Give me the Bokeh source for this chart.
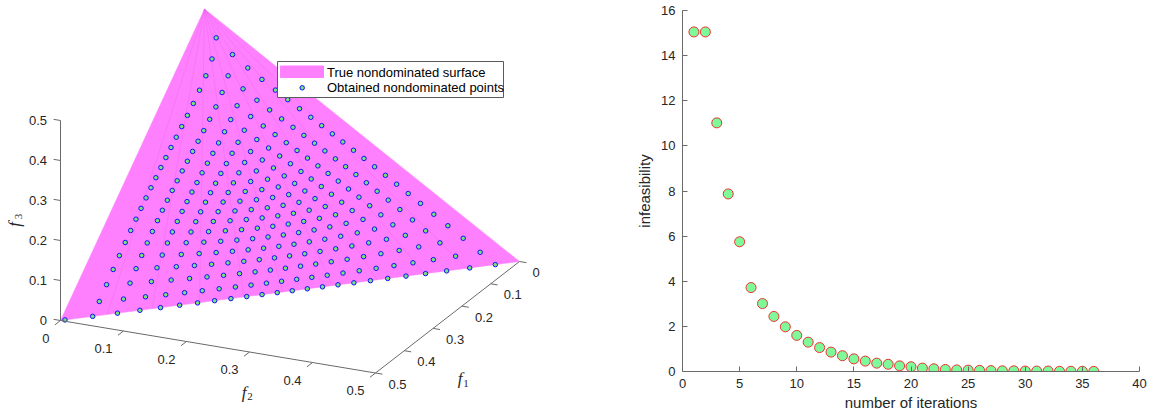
import math
from bokeh.plotting import figure
from bokeh.layouts import row
from bokeh.models import Range1d, FixedTicker, ColumnDataSource
from bokeh.core.properties import value
from bokeh.embed import file_html
from bokeh.resources import INLINE

# ---------------- data: right panel ----------------
iterations = list(range(1, 37))
infeasibility = [15.05, 15.05, 11.02, 7.87, 5.75, 3.72, 3.01, 2.44, 1.98, 1.60,
                 1.30, 1.06, 0.86, 0.70, 0.56, 0.46, 0.37, 0.32, 0.25, 0.21,
                 0.15, 0.12, 0.09, 0.07, 0.06, 0.05, 0.04, 0.03, 0.03, 0.02,
                 0.02, 0.02, 0.01, 0.01, 0.01, 0.005]
x_ticks = [0, 5, 10, 15, 20, 25, 30, 35, 40]
y_ticks = [0, 2, 4, 6, 8, 10, 12, 14, 16]

# ---------------- data: left panel ----------------
# true nondominated surface f1+f2+f3 = 0.5 (corners)
surface_f1 = [0.5, 0.0, 0.0]
surface_f2 = [0.0, 0.5, 0.0]
surface_f3 = [0.0, 0.0, 0.5]
# obtained points: direction grid (polar angle per row, row divisions)
theta_rows_deg = [4.7, 8.6, 12.5, 16.4, 20.4, 24.3, 28.2, 32.1, 36.0, 39.9, 43.8,
                  47.8, 51.7, 55.6, 59.5, 63.4, 67.3, 71.2, 75.2, 79.1, 83.0, 86.9, 90.0]
row_divisions = list(range(2, 25))
phi_shift = 0.15
seam_phi_deg = [6.5, 14.0, 23.5, 33.6, 43.2, 55.4, 65.7, 75.3, 82.6]
axis_ticks = [0, 0.1, 0.2, 0.3, 0.4, 0.5]
tick_labels = ["0", "0.1", "0.2", "0.3", "0.4", "0.5"]

H = 415
FONT = "Liberation Sans"
TXT = "#262626"
AXC = "#6a6a6a"
PINK = "#FF80FF"


def proj(f1, f2, f3):
    x = 60 + (f1 - 0.5) * (-288) + f2 * 630
    y = 320 + (f1 - 0.5) * 223 + f2 * 105 - f3 * 400
    return x, H - y


pf1, pf2, pf3 = [], [], []
for th, m in zip(theta_rows_deg, row_divisions):
    b0 = 0 if m == row_divisions[-1] else 1
    for b in range(b0, m):
        ph = math.radians(90.0 * (b + phi_shift) / m)
        t = math.radians(th)
        r = (math.sin(t) * math.cos(ph), math.sin(t) * math.sin(ph), math.cos(t))
        s = sum(r)
        pf1.append(0.5 * r[0] / s)
        pf2.append(0.5 * r[1] / s)
        pf3.append(0.5 * r[2] / s)

left = figure(width=600, height=H, x_range=Range1d(0, 600), y_range=Range1d(0, H),
              output_backend="svg", toolbar_location=None, min_border=0)
left.axis.visible = False
left.grid.visible = False
left.outline_line_color = None
left.frame_align = False

# surface
sx, sy = zip(*[proj(a, b, c) for a, b, c in zip(surface_f1, surface_f2, surface_f3)])
left.patch(list(sx), list(sy), fill_color=PINK, line_color=PINK, line_width=0.5)
# faint seams from apex
ax_, ay_ = proj(0, 0, 0.5)
for ph in seam_phi_deg:
    p = math.radians(ph)
    c, s_ = math.cos(p), math.sin(p)
    ex, ey = proj(0.5 * c / (c + s_), 0.5 * s_ / (c + s_), 0)
    left.line([ax_, ex], [ay_, ey], line_color="#E65EE6", line_alpha=0.45, line_width=0.7)

# points
px, py = zip(*[proj(a, b, c) for a, b, c in zip(pf1, pf2, pf3)])
left.scatter(list(px), list(py), size=4.5, marker="circle", fill_color="#7AE07A",
             line_color="#1010FF", line_width=1)

# axes lines
def seg(p0, p1, color=AXC, w=1):
    x0, y0 = proj(*p0)
    x1, y1 = proj(*p1)
    left.line([x0, x1], [y0, y1], line_color=color, line_width=w)

seg((0.5, 0, 0), (0.5, 0, 0.5))
seg((0.5, 0, 0), (0.5, 0.5, 0))
seg((0.5, 0.5, 0), (0, 0.5, 0))

tl = 7.0
d2 = (630, -105)
n2 = math.hypot(*d2)
u2 = (d2[0] / n2, d2[1] / n2)
d1 = (-288, -223)
n1 = math.hypot(*d1)
u1 = (d1[0] / n1, d1[1] / n1)
# f3 ticks (pointing -f2)
t3x, t3y = [], []
for v in axis_ticks:
    x, y = proj(0.5, 0, v)
    left.line([x, x - tl * u2[0]], [y, y - tl * u2[1]], line_color=AXC, line_width=1)
    t3x.append(x - 13.5)
    t3y.append(y + 0.5)
left.text(t3x, t3y, text=tick_labels, text_align="right", text_baseline="middle",
          text_font=value(FONT), text_font_size="13px", text_color=TXT)

# f2 ticks (pointing +f1)
t2x, t2y = [], []
for v in axis_ticks:
    x, y = proj(0.5, v, 0)
    left.line([x, x + tl * u1[0]], [y, y + tl * u1[1]], line_color=AXC, line_width=1)
    t2x.append(x - 11)
    t2y.append(y - 17.5)
left.text(t2x, t2y, text=tick_labels, text_align="right", text_baseline="middle",
          text_font=value(FONT), text_font_size="13px", text_color=TXT)

# f1 ticks (pointing +f2)
t1x, t1y = [], []
for v in axis_ticks:
    x, y = proj(v, 0.5, 0)
    left.line([x, x + tl * u2[0]], [y, y + tl * u2[1]], line_color=AXC, line_width=1)
    t1x.append(x + 13)
    t1y.append(y - 11)
left.text(t1x, t1y, text=tick_labels, text_align="left", text_baseline="middle",
          text_font=value(FONT), text_font_size="13px", text_color=TXT)

# axis labels f1, f2, f3
SERIF = "Liberation Serif"
left.text([459.7], [H - 378.3], text=["f"], text_align="center", text_baseline="middle",
          text_font=value(SERIF), text_font_style="italic", text_font_size="17px", text_color=TXT)
left.text([465.5], [H - 382.5], text=["1"], text_align="center", text_baseline="middle",
          text_font=value(SERIF), text_font_size="11px", text_color=TXT)
left.text([243.7], [H - 392.0], text=["f"], text_align="center", text_baseline="middle",
          text_font=value(SERIF), text_font_style="italic", text_font_size="17px", text_color=TXT)
left.text([249.5], [H - 396.3], text=["2"], text_align="center", text_baseline="middle",
          text_font=value(SERIF), text_font_size="11px", text_color=TXT)
left.text([13.5], [H - 224.0], text=["f"], text_align="center", text_baseline="middle",
          angle=math.pi / 2, text_font=value(SERIF), text_font_style="italic",
          text_font_size="17px", text_color=TXT)
left.text([17.5], [H - 216.0], text=["3"], text_align="center", text_baseline="middle",
          angle=math.pi / 2, text_font=value(SERIF), text_font_size="11px", text_color=TXT)

# legend
left.quad(left=[277], right=[503], top=[H - 61], bottom=[H - 97], fill_color="white",
          line_color="#5a5a5a", line_width=1)
left.quad(left=[280], right=[323], top=[H - 65.5], bottom=[H - 77], fill_color=PINK,
          line_color=PINK)
left.scatter([301.7], [H - 87.3], size=4.5, marker="circle", fill_color="#7AE07A",
             line_color="#1010FF", line_width=1)
left.text([326.5, 326.5], [H - 71.5, H - 87.3],
          text=["True nondominated surface", "Obtained nondominated points"],
          text_align="left", text_baseline="middle", text_font=value(FONT),
          text_font_size="13px", text_color="black")

# ---------------- right panel ----------------
right = figure(width=549, height=H, x_range=Range1d(0, 40), y_range=Range1d(0, 16),
               output_backend="svg", toolbar_location=None,
               min_border_left=82, min_border_right=10, min_border_top=10,
               min_border_bottom=44)
right.frame_align = False
right.grid.visible = False
right.outline_line_color = None
src = ColumnDataSource(dict(x=iterations, y=infeasibility))
right.scatter("x", "y", source=src, size=10, marker="circle", fill_color="#7FFA9A",
              line_color="#F03030", line_width=1)
right.xaxis.ticker = FixedTicker(ticks=x_ticks)
right.yaxis.ticker = FixedTicker(ticks=y_ticks)
for ax in (right.xaxis[0], right.yaxis[0]):
    ax.axis_line_color = AXC
    ax.major_tick_line_color = AXC
    ax.major_tick_in = 5
    ax.major_tick_out = 0
    ax.minor_tick_line_color = None
    ax.major_label_text_font = FONT
    ax.major_label_text_font_size = "13px"
    ax.major_label_text_color = TXT
    ax.axis_label_text_font = FONT
    ax.axis_label_text_font_size = "15px"
    ax.axis_label_text_font_style = "normal"
    ax.axis_label_text_color = TXT
    ax.major_label_standoff = 7
right.xaxis.axis_label = "number of iterations"
right.yaxis.axis_label = "infeasibility"
right.xaxis.axis_label_standoff = 3
right.yaxis.axis_label_standoff = 5

layout = row(left, right, spacing=0)
open("out.html", "w").write(file_html(layout, INLINE))
